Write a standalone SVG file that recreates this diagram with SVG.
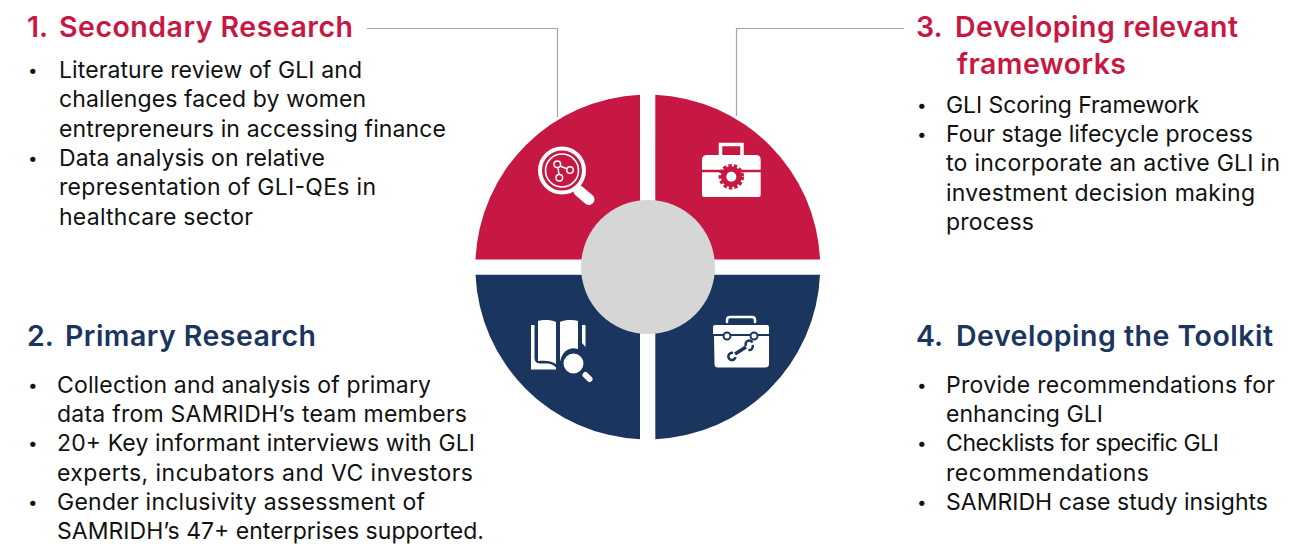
<svg xmlns="http://www.w3.org/2000/svg" width="1316" height="544" viewBox="0 0 1316 544">
<style>
text{font-family:"Inter","Noto Sans","Liberation Sans",sans-serif}
.h{font-size:28.500px;font-weight:600;}
.r{fill:#c71843}.b{fill:#1a365f}
.t{font-size:23px;fill:#111}
.d{font-size:17px;fill:#111}
.c{fill:none;stroke:#a6a6a6;stroke-width:1.2}
.w{fill:#fff}
.wl{fill:none;stroke:#fff}
.bl{fill:none;stroke:#1a365f}
</style>
<rect width="1316" height="544" fill="#fff"/>
<g id="connectors">
<path class="c" d="M367 28.500H557.500V117"/>
<path class="c" d="M904 28.500H736.500V116"/>
</g>
<g id="wheel">
<path class="r" d="M640 94.800A172.400 172.400 0 0 0 475.500 259.500H640Z"/>
<path class="r" d="M655.300 94.800A172.400 172.400 0 0 1 820 259.500H655.300Z"/>
<path class="b" d="M640 439.200A172.400 172.400 0 0 1 475.500 274.700H640Z"/>
<path class="b" d="M655.300 439.200A172.400 172.400 0 0 0 820 274.700H655.300Z"/>
<circle cx="648" cy="267" r="67" fill="#d6d6d6"/>
</g>
<g id="icon-search">
<circle class="wl" cx="562" cy="170.500" r="22" stroke-width="4"/>
<circle class="wl" cx="562" cy="170.500" r="16.500" stroke-width="1.600"/>
<path class="wl" stroke-width="11" stroke-linecap="round" d="M579 191L589 199.500"/>
<path class="wl" stroke-width="1.500" d="M558 167.500L559 174.500M560 166L567.500 169"/>
<circle class="wl" cx="557.300" cy="164.300" r="3.300" stroke-width="1.500"/>
<circle class="wl" cx="570" cy="170" r="3.300" stroke-width="1.500"/>
<circle class="wl" cx="559.300" cy="177.700" r="3.300" stroke-width="1.500"/>
</g>
<g id="icon-toolbox-gear">
<path class="wl" stroke-width="3.500" d="M720.500 155V144.500H742V155"/>
<path class="w" d="M707 155H756Q760.700 155 760.700 160V195Q760.700 197 758.700 197H704Q702 197 702 195V160Q702 155 707 155Z"/>
<path d="M702 171H761" stroke="#c71843" stroke-width="2.500"/>
<circle class="r" cx="731.300" cy="176.700" r="10.500"/>
<circle cx="731.300" cy="176.700" r="11" fill="none" stroke="#c71843" stroke-width="3.500" stroke-dasharray="3.400 2"/>
<circle class="w" cx="731.300" cy="176.700" r="5"/>
</g>
<g id="icon-book">
<path class="w" d="M538 321C543 319.500 551 319.500 556 322V364C552 361 546 360 538 361Z"/>
<path class="w" d="M560 322C565 319.500 573 319.500 578 321V349C570 346 562 351 560 362Z"/>
<path class="w" d="M531 325H534.500V358Q534.500 363 540 363.500H548Q553 364 556 367.500V369.500H531Z"/>
<path class="w" d="M582 325H585.500V347L582 343Z"/>
<circle class="w" cx="573.500" cy="363.500" r="11.500" stroke="#1a365f" stroke-width="3"/>
<path class="wl" stroke-width="6" stroke-linecap="round" d="M585.500 375L589.500 379"/>
</g>
<g id="icon-toolbox-wrench">
<path class="wl" stroke-width="2.500" stroke-linecap="round" d="M727 322V320Q727 317 730 317H752Q755 317 755 320V322"/>
<path class="w" d="M715 325H767Q769 325 769 327V334H713V327Q713 325 715 325Z"/>
<path class="w" d="M714 336H769V364Q769 367.500 765 367.500H718Q714.500 367.500 714.500 364Z"/>
<path d="M713 335H769" stroke="#1a365f" stroke-width="2"/>
<circle class="w" cx="727" cy="336" r="3.500" stroke="#1a365f" stroke-width="2"/>
<circle class="w" cx="754" cy="336" r="3.500" stroke="#1a365f" stroke-width="2"/>
<path class="bl" stroke-width="3.500" d="M735 354L746 347"/>
<path class="bl" stroke-width="2.500" d="M733 353A3.600 3.600 0 1 0 735.500 357M746 346A3.600 3.600 0 0 1 752.500 342.500M748.500 350A3.600 3.600 0 0 0 752.500 345"/>
</g>
<g id="step-1">
<text class="h r" x="27" y="37">1.</text>
<text class="h r" x="59" y="37" textLength="294">Secondary Research</text>
<text class="d" x="28" y="76">•</text><text class="t" x="59" y="78" textLength="303">Literature review of GLI and</text>
<text class="t" x="59" y="107" textLength="307">challenges faced by women</text>
<text class="t" x="59" y="137" textLength="387">entrepreneurs in accessing finance</text>
<text class="d" x="28" y="164">•</text><text class="t" x="59" y="166" textLength="266">Data analysis on relative</text>
<text class="t" x="59" y="195" textLength="317">representation of GLI-QEs in</text>
<text class="t" x="59" y="225" textLength="194">healthcare sector</text>
</g>
<g id="step-3">
<text class="h r" x="916" y="37">3.</text>
<text class="h r" x="955" y="37" textLength="283">Developing relevant</text>
<text class="h r" x="957" y="74" textLength="169">frameworks</text>
<text class="d" x="917" y="111">•</text><text class="t" x="946" y="113" textLength="253">GLI Scoring Framework</text>
<text class="d" x="917" y="140">•</text><text class="t" x="946" y="142" textLength="307">Four stage lifecycle process</text>
<text class="t" x="946" y="171" textLength="334">to incorporate an active GLI in</text>
<text class="t" x="946" y="201" textLength="309">investment decision making</text>
<text class="t" x="946" y="230" textLength="88">process</text>
</g>
<g id="step-2">
<text class="h b" x="27" y="346">2.</text>
<text class="h b" x="65" y="346" textLength="251">Primary Research</text>
<text class="d" x="28" y="391">•</text><text class="t" x="57" y="393" textLength="374">Collection and analysis of primary</text>
<text class="t" x="57" y="422" textLength="410">data from SAMRIDH’s team members</text>
<text class="d" x="28" y="449">•</text><text class="t" x="57" y="451" textLength="418">20+ Key informant interviews with GLI</text>
<text class="t" x="57" y="481" textLength="416">experts, incubators and VC investors</text>
<text class="d" x="28" y="508">•</text><text class="t" x="57" y="510" textLength="368">Gender inclusivity assessment of</text>
<text class="t" x="57" y="539" textLength="427">SAMRIDH’s 47+ enterprises supported.</text>
</g>
<g id="step-4">
<text class="h b" x="916" y="346">4.</text>
<text class="h b" x="956" y="346" textLength="317">Developing the Toolkit</text>
<text class="d" x="917" y="391">•</text><text class="t" x="946" y="393" textLength="329">Provide recommendations for</text>
<text class="t" x="946" y="422" textLength="157">enhancing GLI</text>
<text class="d" x="917" y="449">•</text><text class="t" x="946" y="451" textLength="273">Checklists for specific GLI</text>
<text class="t" x="946" y="481" textLength="203">recommendations</text>
<text class="d" x="917" y="508">•</text><text class="t" x="946" y="510" textLength="322">SAMRIDH case study insights</text>
</g>
</svg>
